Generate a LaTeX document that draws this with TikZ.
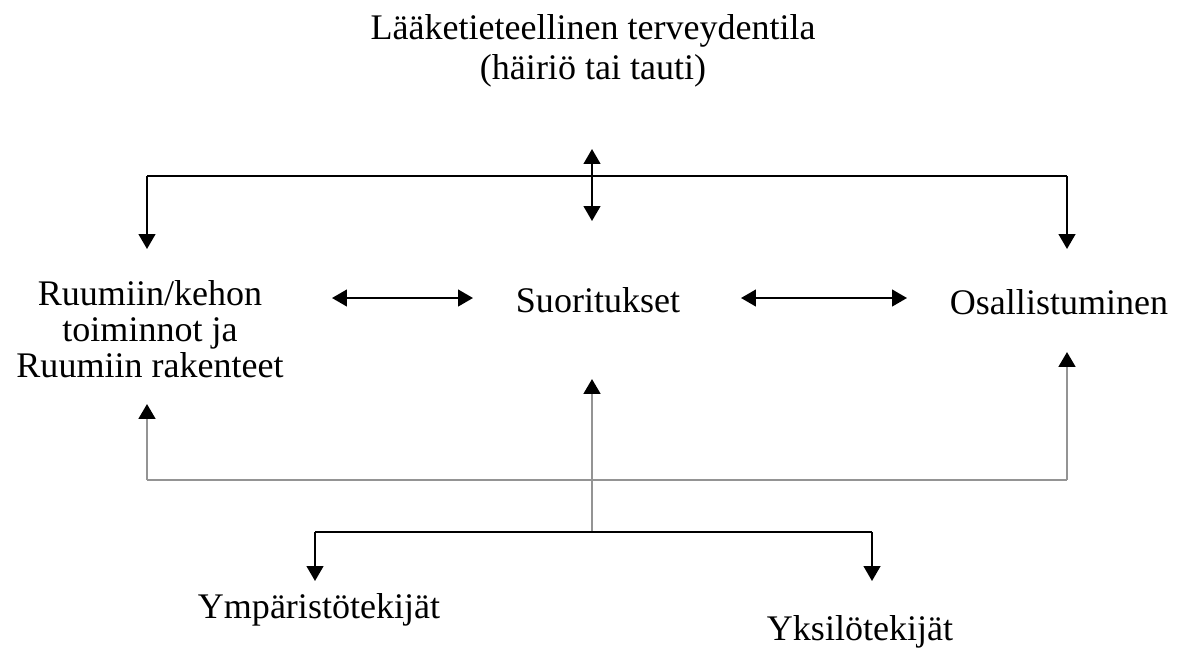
\documentclass[tikz,border=0pt]{standalone}
\usepackage{fontspec}
\setmainfont{Liberation Serif}
\usetikzlibrary{arrows.meta}

\tikzset{
	lbl/.style={black, align=center, inner sep=0pt, font=\fontsize{20.5}{20.5}\selectfont},
	tip/.style={-{Triangle[length=8.5pt,width=9.5pt,color=black]}},
	dtip/.style={{Triangle[length=8.5pt,width=9.5pt,color=black]}-{Triangle[length=8.5pt,width=9.5pt,color=black]}},
	blk/.style={line width=1.2pt, black},
	gry/.style={line width=1.5pt, black!42}
}

\begin{document}
\begin{tikzpicture}[x=0.02cm, y=-0.02cm]
		\useasboundingbox (0,0) rectangle (1186,650);
		%\draw[thin, draw=LightSkyBlue, step=50] (0,0) grid (1186,650);
		
		\node[lbl, font=\fontsize{20.5}{22.7}\selectfont] (health) at (593,51) {Lääketieteellinen terveydentila\\(häiriö tai tauti)};
		\node[lbl] (body) at (150,329) {Ruumiin/kehon\\toiminnot ja\\Ruumiin rakenteet};
		\node[lbl] (activ) at (598,300) {Suoritukset};
		\node[lbl] (partic) at (1059,302) {Osallistuminen};
		\node[lbl] (envf) at (319,610) {Ympäristötekijät};
		\node[lbl] (persf) at (860,632) {Yksilötekijät};
		
		\coordinate (tl) at (147,176);
		\coordinate (tr) at (1067,176);
		\coordinate (bodyin) at (147,249);
		\coordinate (particin) at (1067,249);
		\coordinate (hup) at (592,149);
		\coordinate (hdn) at (592,221);
		\draw[blk] (tl) -- (tr);
		\draw[blk,tip] (tl) -- (bodyin);
		\draw[blk,tip] (tr) -- (particin);
		\draw[blk,dtip] (hup) -- (hdn);
		
		\coordinate (ba) at (332,298);
		\coordinate (ab) at (473,298);
		\coordinate (ap) at (741,298);
		\coordinate (pa) at (907,298);
		\draw[blk,dtip] (ba) -- (ab);
		\draw[blk,dtip] (ap) -- (pa);
		
		\coordinate (bl) at (147,480);
		\coordinate (br) at (1067,480);
		\coordinate (bodyup) at (147,404);
		\coordinate (particup) at (1067,352);
		\draw[gry] (bl) -- (br);
		\draw[gry,tip] (bl) -- (bodyup);
		\draw[gry,tip] (br) -- (particup);
		
		\coordinate (fc) at (592,532);
		\coordinate (activup) at (592,379);
		\coordinate (fl) at (315,532);
		\coordinate (fr) at (872,532);
		\coordinate (envin) at (315,581);
		\coordinate (persin) at (872,581);
		\draw[gry,tip] (fc) -- (activup);
		\draw[blk] (fl) -- (fr);
		\draw[blk,tip] (fl) -- (envin);
		\draw[blk,tip] (fr) -- (persin);
	\end{tikzpicture}
\end{document}
